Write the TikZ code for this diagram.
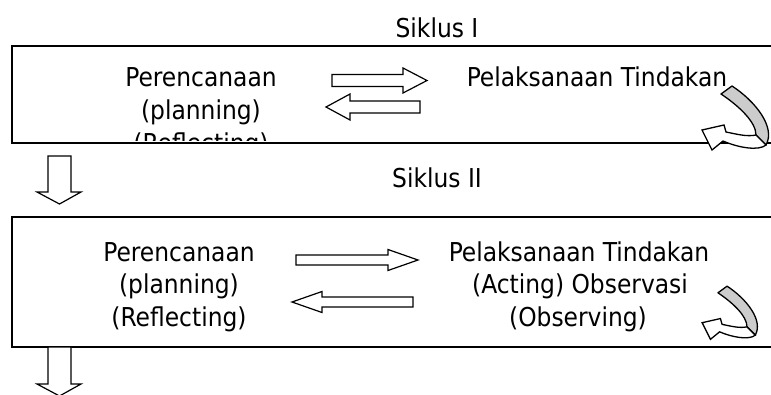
\documentclass[tikz,border=0pt]{standalone}
\usepackage{fontspec}
\setmainfont{DejaVu Sans Condensed}
\begin{document}
\begin{tikzpicture}[x=1pt,y=-1pt,
  frame/.style={draw=black,line width=1.4pt},
  blockarrow/.style={draw=black,fill=white,line width=1.2pt,line join=miter},
  lbl/.style={font=\fontsize{26}{30}\selectfont,inner sep=0pt,anchor=base},
  uturn/.pic={
    % back side of the ribbon (grey)
    \draw[fill=gray!40,line width=1.3pt,line join=round]
      (29,-1) .. controls (52,14) and (73,40) .. (63,58) -- (53,48)
      .. controls (53,35) and (36,19) .. (18,7) -- cycle;
    % front side turning back, with its head
    \draw[fill=white,line width=1.3pt,line join=miter]
      (53,48) .. controls (44,50) and (33,47) .. (23,45) -- (21,38) -- (-1,43)
      -- (9,63) -- (20,54) .. controls (36,61) and (56,64) .. (63,58) -- cycle;
  }]
\useasboundingbox (0,0) rectangle (771,394);
\clip (0,0) rectangle (771,394);

% ---------- cycle I ----------
\node[lbl] (s1) at (437,37) {Siklus I};
\draw[frame] (12,46) rectangle (800,143);
\node[lbl] (plan1) at (201,86) {Perencanaan};
\node[lbl] (plan1b) at (201,119) {(planning)};
\begin{scope}
  \clip (12,46) rectangle (771,140);
  \node[lbl] (plan1c) at (201,152) {(Reflecting)};
\end{scope}
\node[lbl] (act1) at (597,86) {Pelaksanaan Tindakan};
\draw[blockarrow] (332,74.5) -- (403,74.5) -- (403,68) -- (427,80.5)
  -- (403,93) -- (403,86.5) -- (332,86.5) -- cycle;
\draw[blockarrow] (420,101) -- (350,101) -- (350,94) -- (326,107)
  -- (350,120) -- (350,113) -- (420,113) -- cycle;
\pic at (703,87) {uturn};

% arrow down to cycle II
\draw[blockarrow] (48,156) -- (71,156) -- (71,192) -- (81,192) -- (59.5,204)
  -- (37,192) -- (48,192) -- cycle;

% ---------- cycle II ----------
\node[lbl] (s2) at (437,187) {Siklus II};
\draw[frame] (12,217) rectangle (800,347);
\node[lbl] (plan2) at (179,261) {Perencanaan};
\node[lbl] (plan2b) at (179,293.5) {(planning)};
\node[lbl] (plan2c) at (179,326) {(Reflecting)};
\node[lbl] (act2) at (579,261) {Pelaksanaan Tindakan};
\node[lbl] (act2b) at (580,293.5) {(Acting) Observasi};
\node[lbl] (act2c) at (578,326) {(Observing)};
\draw[blockarrow] (296,255) -- (388,255) -- (388,249.5) -- (418,260)
  -- (388,270.5) -- (388,265) -- (296,265) -- cycle;
\draw[blockarrow] (413,297) -- (322,297) -- (322,291.5) -- (292,302)
  -- (322,312.5) -- (322,307) -- (413,307) -- cycle;
\pic[scale=0.83] at (703,287) {uturn};

% arrow down out of cycle II
\draw[blockarrow] (48,347) -- (71,347) -- (71,384) -- (81,384) -- (59.5,396)
  -- (37,384) -- (48,384) -- cycle;
\end{tikzpicture}
\end{document}
